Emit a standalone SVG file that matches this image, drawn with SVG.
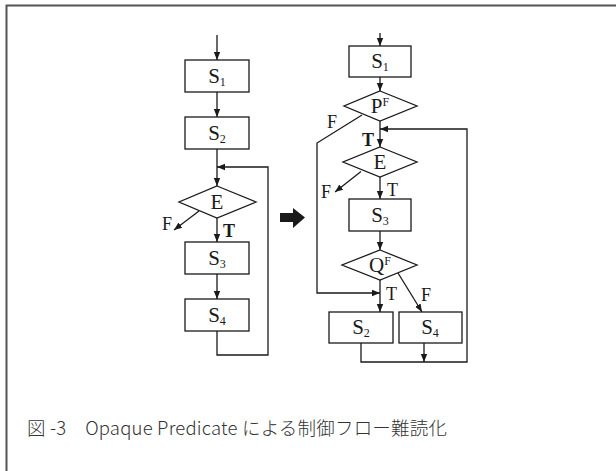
<svg xmlns="http://www.w3.org/2000/svg" width="616" height="471" viewBox="0 0 616 471">
<style>
.ln{fill:none;stroke:#1a1a1a;stroke-width:1.3}
.bx{fill:#fff;stroke:#1a1a1a;stroke-width:1.3}
.t{font-family:"Liberation Serif",serif;fill:#1a1a1a}
.s{font-size:21px}
.sub{font-size:12px}
.lb{font-size:18px}
.cap{font-family:"Noto Sans CJK JP","Noto Sans",sans-serif;font-size:18.5px;fill:#333;font-weight:300}
</style>
<defs>
<marker id="ah" markerUnits="userSpaceOnUse" markerWidth="8" markerHeight="8" viewBox="0 0 8 8" refX="8" refY="4" orient="auto">
<path d="M0,0.8 L8,4 L0,7.2 Z" fill="#1a1a1a"/>
</marker>
</defs>
<g id="frame">
<path d="M6.5,471 V5.5 H616" fill="none" stroke="#555" stroke-width="2"/>
</g>
<g id="connectors">
<line class="ln" x1="217" y1="35" x2="217" y2="60" marker-end="url(#ah)"/>
<line class="ln" x1="217" y1="92" x2="217" y2="117" marker-end="url(#ah)"/>
<line class="ln" x1="217" y1="149" x2="217" y2="186" marker-end="url(#ah)"/>
<polyline class="ln" points="217,331 217,355 268,355 268,167 217,167" marker-end="url(#ah)"/>
<line class="ln" x1="199" y1="211" x2="174" y2="230" marker-end="url(#ah)"/>
<line class="ln" x1="217" y1="218" x2="217" y2="242" marker-end="url(#ah)"/>
<line class="ln" x1="217" y1="274" x2="217" y2="299" marker-end="url(#ah)"/>
<polygon points="280,213 293,213 293,208 305,217.5 293,228 293,222 280,222" fill="#1a1a1a"/>
<line class="ln" x1="380" y1="33" x2="380" y2="46" marker-end="url(#ah)"/>
<line class="ln" x1="380" y1="77" x2="380" y2="91" marker-end="url(#ah)"/>
<polyline class="ln" points="362,115 317,143 317,293 380,293" marker-end="url(#ah)"/>
<line class="ln" x1="380" y1="121" x2="380" y2="147" marker-end="url(#ah)"/>
<line class="ln" x1="361" y1="171.5" x2="335" y2="192" marker-end="url(#ah)"/>
<line class="ln" x1="380" y1="177" x2="380" y2="199" marker-end="url(#ah)"/>
<line class="ln" x1="380" y1="231" x2="380" y2="250" marker-end="url(#ah)"/>
<line class="ln" x1="398" y1="273" x2="422" y2="312" marker-end="url(#ah)"/>
<line class="ln" x1="380" y1="280" x2="380" y2="312" marker-end="url(#ah)"/>
<polyline class="ln" points="361,343 361,362 467,362 467,129 380,129" marker-end="url(#ah)"/>
<line class="ln" x1="424" y1="343" x2="424" y2="362" marker-end="url(#ah)"/>
</g>
<g id="L_S1"><rect class="bx" x="185" y="60" width="64" height="32"/><text class="t" x="217" y="83" text-anchor="middle"><tspan class="s">S</tspan><tspan class="sub" dy="3">1</tspan></text></g>
<g id="L_S2"><rect class="bx" x="185" y="117" width="64" height="32"/><text class="t" x="217" y="140" text-anchor="middle"><tspan class="s">S</tspan><tspan class="sub" dy="3">2</tspan></text></g>
<g id="L_E"><polygon class="bx" points="217,186 256,202 217,218 179,202"/><text class="t s" x="217" y="209" text-anchor="middle">E</text></g>
<g id="L_S3"><rect class="bx" x="185" y="242" width="64" height="32"/><text class="t" x="217" y="265" text-anchor="middle"><tspan class="s">S</tspan><tspan class="sub" dy="3">3</tspan></text></g>
<g id="L_S4"><rect class="bx" x="185" y="299" width="64" height="32"/><text class="t" x="217" y="322" text-anchor="middle"><tspan class="s">S</tspan><tspan class="sub" dy="3">4</tspan></text></g>
<g id="labels" class="t lb">
<text x="162" y="230">F</text>
<text x="223" y="237" font-weight="bold">T</text>
<text x="327" y="128">F</text>
<text x="362" y="146" font-weight="bold">T</text>
<text x="321" y="198">F</text>
<text x="387" y="196">T</text>
<text x="386" y="300">T</text>
<text x="421" y="301">F</text>
</g>
<g id="R_S1"><rect class="bx" x="349" y="46" width="62" height="31"/><text class="t" x="380" y="68" text-anchor="middle"><tspan class="s">S</tspan><tspan class="sub" dy="3">1</tspan></text></g>
<g id="R_P"><polygon class="bx" points="380,91 417,106 380,121 344,106"/><text class="t" x="380" y="113" text-anchor="middle"><tspan class="s">P</tspan><tspan class="sub" dy="-7">F</tspan></text></g>
<g id="R_E"><polygon class="bx" points="380,147 417,162 380,177 343,162"/><text class="t s" x="380" y="169" text-anchor="middle">E</text></g>
<g id="R_S3"><rect class="bx" x="349" y="199" width="62" height="32"/><text class="t" x="380" y="222" text-anchor="middle"><tspan class="s">S</tspan><tspan class="sub" dy="3">3</tspan></text></g>
<g id="R_Q"><polygon class="bx" points="380,250 417,265 380,280 342,265"/><text class="t" x="380" y="272" text-anchor="middle"><tspan class="s">Q</tspan><tspan class="sub" dy="-7">F</tspan></text></g>
<g id="R_S2"><rect class="bx" x="329" y="312" width="64" height="31"/><text class="t" x="361" y="334" text-anchor="middle"><tspan class="s">S</tspan><tspan class="sub" dy="3">2</tspan></text></g>
<g id="R_S4"><rect class="bx" x="399" y="312" width="63" height="31"/><text class="t" x="430" y="334" text-anchor="middle"><tspan class="s">S</tspan><tspan class="sub" dy="3">4</tspan></text></g>
<g id="caption"><text class="cap" x="27" y="435" textLength="420" lengthAdjust="spacing">図 -3　Opaque Predicate による制御フロー難読化</text></g>
</svg>
